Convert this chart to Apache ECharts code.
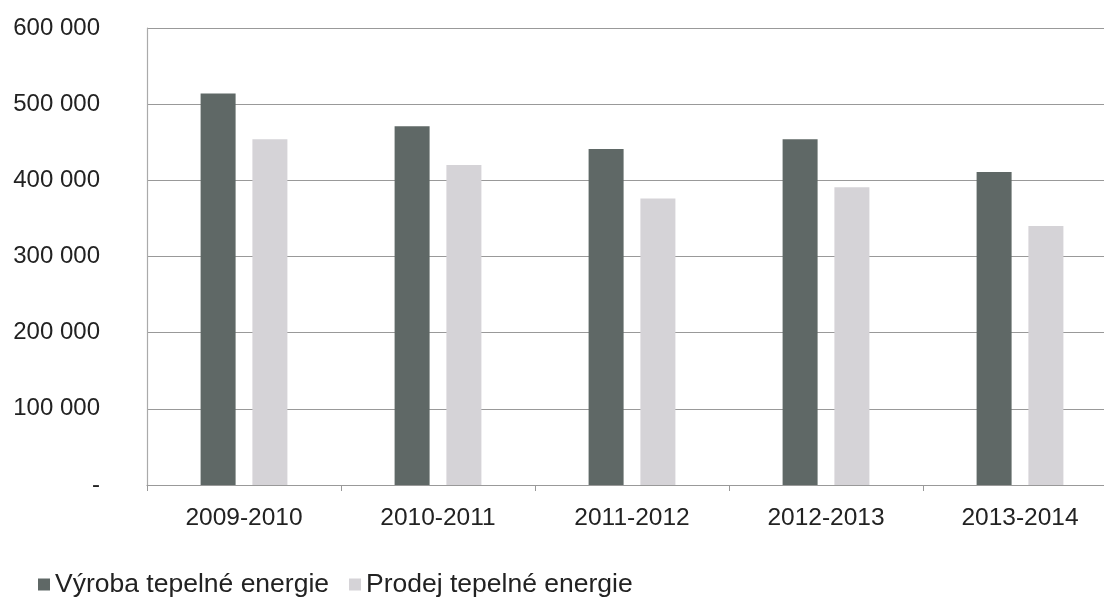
<!DOCTYPE html>
<html><head><meta charset="utf-8">
<script src="https://cdn.jsdelivr.net/npm/echarts@6/dist/echarts.min.js"></script>
<style>html,body{margin:0;padding:0;background:#fff;overflow:hidden}#c{width:1120px;height:597px}</style>
</head><body><div id="c"></div>
<script>
const categories = ['2009-2010','2010-2011','2011-2012','2012-2013','2013-2014'];
const vyroba = [514000, 471000, 441000, 454000, 411000];
const prodej = [454000, 420000, 376000, 391000, 340000];
const seriesNames = ['Výroba tepelné energie','Prodej tepelné energie'];

const chart = echarts.init(document.getElementById('c'));
chart.setOption({
  animation:false,
  textStyle:{fontFamily:'Liberation Sans, Arial, sans-serif'},
  grid:{left:147, top:28, right:3, bottom:112, containLabel:false},
  legend:{
    left:33, top:566, itemWidth:12, itemHeight:12, itemGap:20,
    icon:'rect',
    textStyle:{fontSize:26.5, color:'#222'},
    data:seriesNames
  },
  xAxis:{
    type:'category', data:categories,
    axisLine:{lineStyle:{color:'#999', width:1.2}},
    axisTick:{show:true, length:6, lineStyle:{color:'#999'}},
    axisLabel:{fontSize:24.5, color:'#222', margin:21}
  },
  yAxis:{
    type:'value', min:0, max:600000, interval:100000,
    axisLine:{show:true, lineStyle:{color:'#aaa', width:1.2}},
    axisTick:{show:false},
    splitLine:{lineStyle:{color:'#999', width:1.2}},
    axisLabel:{fontSize:24, color:'#222', margin:47,
      formatter:v=> v===0 ? '-' : String(v).replace(/\B(?=(\d{3})+(?!\d))/g,' ')}
  },
  series:[
    {name:seriesNames[0], type:'bar', data:vyroba, barWidth:35, barGap:'48%', itemStyle:{color:'#5f6866'}},
    {name:seriesNames[1], type:'bar', data:prodej, barWidth:35, itemStyle:{color:'#d5d3d7'}}
  ]
});
</script></body></html>
